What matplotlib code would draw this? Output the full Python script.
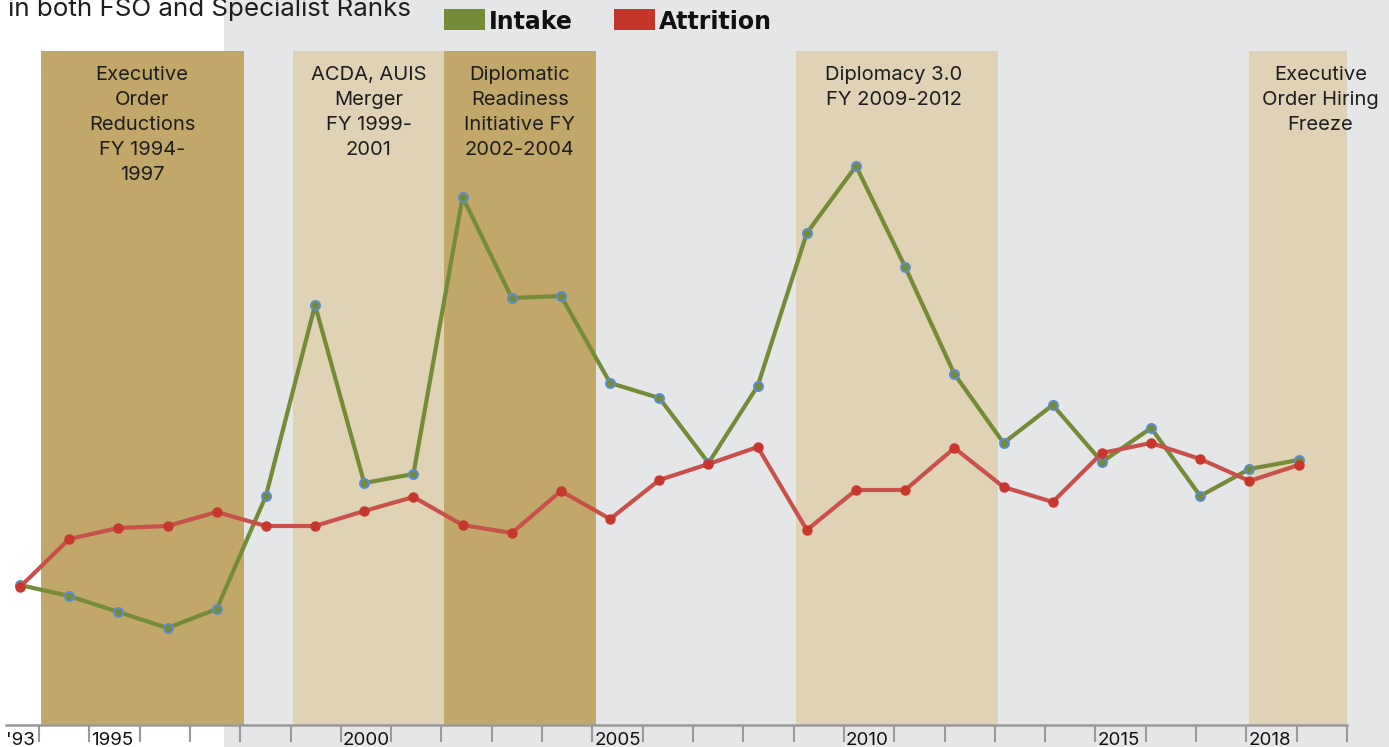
import matplotlib
matplotlib.use("Agg")
import matplotlib.pyplot as plt
from matplotlib.patches import Rectangle
import numpy as np

years = list(range(1993, 2020))
intake = [140, 129, 113, 97, 116, 229, 420, 242, 251, 528, 427, 429, 342, 327,
          262, 339, 492, 559, 458, 351, 282, 320, 263, 297, 229, 256, 265]
attrition = [138, 186, 197, 199, 213, 199, 199, 214, 228, 200, 192, 234, 206, 245,
             261, 278, 195, 235, 235, 277, 238, 223, 272, 282, 266, 244, 260]

bands = [
    (1994, 1998, "Executive\nOrder\nReductions\nFY 1994-\n1997", "dark"),
    (1999, 2002, "ACDA, AUIS\nMerger\nFY 1999-\n2001", "light"),
    (2002, 2005, "Diplomatic\nReadiness\nInitiative FY\n2002-2004", "dark"),
    (2009, 2013, "Diplomacy 3.0\nFY 2009-2012", "light"),
    (2018, 2020, "Executive\nOrder Hiring\nFreeze", "light"),
]
tick_labels = {1993: "'93", 1995: "1995", 2000: "2000", 2005: "2005",
               2010: "2010", 2015: "2015", 2018: "2018"}

GRAY = "#e5e6e8"
DARK = "#c2a76a"
LIGHT = "#e0d2b4"
GREEN = "#758b38"
RED_LINE = "#c9514b"
RED_MK = "#c8372d"
BLUE = "#5a8ed0"

W, H = 1389, 747
fig = plt.figure(figsize=(W / 100, H / 100), dpi=100, facecolor="white")
fig.patches.append(Rectangle((224 / W, 0), 1 - 224 / W, 1, transform=fig.transFigure,
                             facecolor=GRAY, edgecolor="none", zorder=-10))

ax_l, ax_r, ax_b, ax_t = 6, 1347, 725, 51
ax = fig.add_axes([ax_l / W, (H - ax_b) / H, (ax_r - ax_l) / W, (ax_b - ax_t) / H])
ax.patch.set_alpha(0)

# data scale: 1993 at px 20, 49.2 px/year
PX0, PXY = 20, 49.2
def px2x(px):
    return 1993 + (px - PX0) / PXY
ax.set_xlim(px2x(ax_l), px2x(ax_r))
ax.set_ylim(0, ax_b - ax_t)

# calendar (tick) scale: start of 1994 at px 39, 50.33 px/year
def yr_start(y):
    return px2x(39 + (y - 1994) * 50.33)

for (a, b, label, kind) in bands:
    x0, x1 = yr_start(a) + 0.05, yr_start(b) + 0.07
    ax.axvspan(x0, x1, color=DARK if kind == "dark" else LIGHT, lw=0, zorder=0)

label_centers = [142, 369, 520, 894, 1321]
for (a, b, label, kind), cx in zip(bands, label_centers):
    ax.text(px2x(cx), ax_b - 66, label, ha="center", va="top", fontsize=14.5,
            family="Inter", color="#1e1e1e", linespacing=1.50, zorder=2)

ax.plot(years, intake, color=GREEN, lw=3, zorder=3, marker="o", markersize=6.5,
        markerfacecolor=GREEN, markeredgecolor=BLUE, markeredgewidth=1.4)
ax.plot(years, attrition, color=RED_LINE, lw=3, zorder=4, marker="o", markersize=6.5,
        markerfacecolor=RED_MK, markeredgecolor=RED_MK, markeredgewidth=1)

for s in ["top", "right", "left"]:
    ax.spines[s].set_visible(False)
ax.spines["bottom"].set_color("#9a9a9a")
ax.spines["bottom"].set_linewidth(1.8)
ax.set_yticks([])
ticks = [yr_start(y) for y in range(1994, 2021)]
ax.set_xticks(ticks)
ax.set_xticklabels([])
ax.tick_params(axis="x", length=12, width=1.5, color="#9a9a9a", direction="out")

for y, lab in tick_labels.items():
    if y == 1993:
        xp = px2x(6)
    else:
        xp = yr_start(y) + 0.04
    ax.text(xp, -7, lab, ha="left", va="top", fontsize=13.5, family="Inter",
            color="#111111", clip_on=False)

# title fragment
fig.text(8 / W, 1 - 16 / H, "in both FSO and Specialist Ranks", ha="left", va="baseline",
         fontsize=18.7, family="Inter", color="#1e1e1e")

# legend
for (x0, txt, col) in [(444, "Intake", GREEN), (614, "Attrition", "#c4352a")]:
    fig.patches.append(Rectangle((x0 / W, 1 - 30 / H), 41 / W, 21 / H,
                                 transform=fig.transFigure, facecolor=col,
                                 edgecolor="none"))
    fig.text((x0 + 45) / W, 1 - 29 / H, txt, ha="left", va="baseline",
             fontsize=17, fontweight="bold", family="DejaVu Sans", color="#111111")

fig.savefig("out.png", dpi=100, facecolor="white")
